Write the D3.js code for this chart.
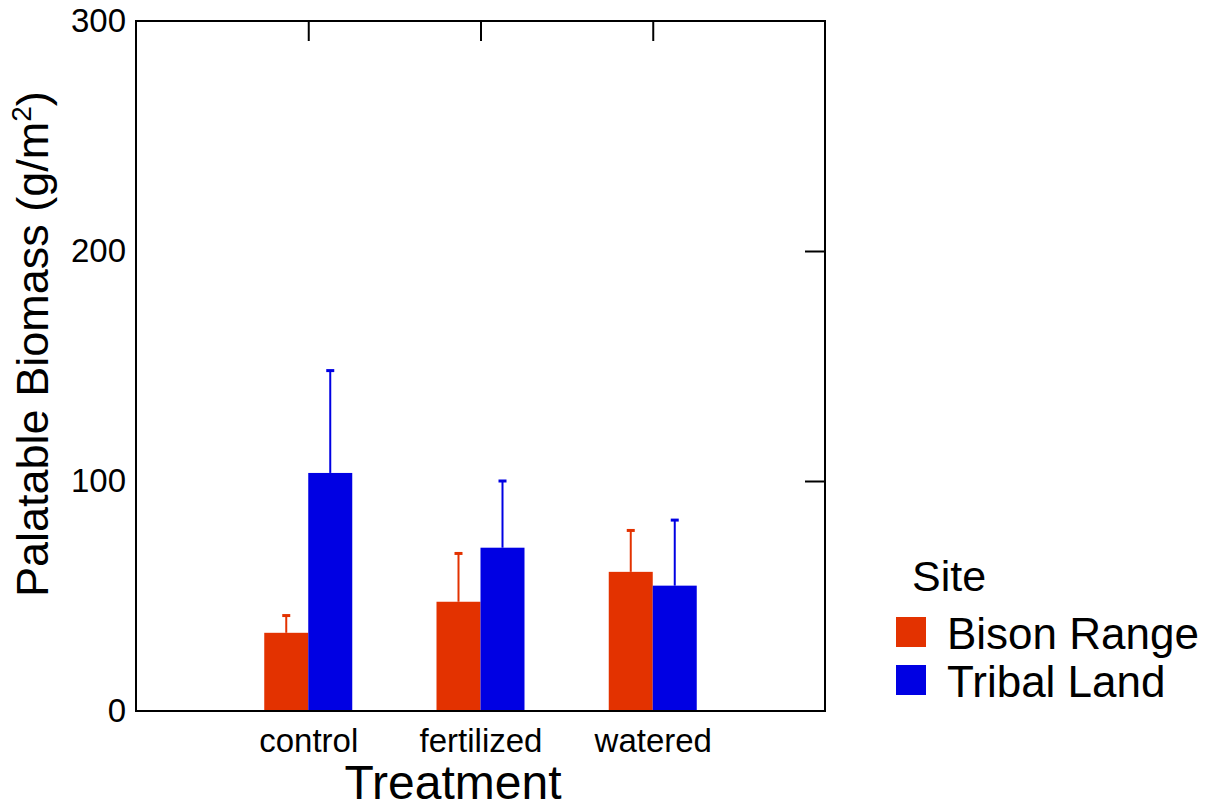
<!DOCTYPE html>
<html>
<head>
<meta charset="utf-8">
<script src="https://cdn.jsdelivr.net/npm/d3@7"></script>
<style>
  body { margin: 0; background: #fff; }
  text { font-family: "Liberation Sans", Arial, sans-serif; fill: #000; }
</style>
</head>
<body>
<svg id="chart" width="1217" height="810"></svg>
<script>
const categories = ['control', 'fertilized', 'watered']
const sites = ['Bison Range', 'Tribal Land']
const bisonMeans = [34, 47.5, 60.5]
const bisonUpper = [41.5, 68.5, 78.5]
const tribalMeans = [103.5, 71, 54.5]
const tribalUpper = [148, 100, 83]
const yTicks = [0, 100, 200, 300]

const colors = ['#e33200', '#0000e3']
const font = '"Liberation Sans", Arial, sans-serif'

const margin = { left: 136, top: 21, right: 825, bottom: 711 }
const svg = d3.select('#chart')

const x = d3.scalePoint()
    .domain(categories)
    .range([margin.left, margin.right])
    .padding(1)

const y = d3.scaleLinear()
    .domain([0, 300])
    .range([margin.bottom, margin.top])

const barW = 44

const series = [
    { site: sites[0], means: bisonMeans, upper: bisonUpper, offset: -1 },
    { site: sites[1], means: tribalMeans, upper: tribalUpper, offset: 0 }
]

// bars
series.forEach((s, si) => {
    const rows = categories.map((c, i) => ({ c, mean: s.means[i], up: s.upper[i] }))
    const cx = d => x(d.c) + s.offset * barW + barW / 2
    svg.append('g').selectAll('rect')
        .data(rows)
        .join('rect')
        .attr('x', d => x(d.c) + s.offset * barW)
        .attr('y', d => y(d.mean))
        .attr('width', barW)
        .attr('height', d => y(0) - y(d.mean))
        .attr('fill', colors[si])

    // upper error bars only
    const eb = svg.append('g').attr('stroke', colors[si]).attr('stroke-width', 2)
    eb.selectAll('line.v')
        .data(rows)
        .join('line')
        .attr('class', 'v')
        .attr('x1', cx)
        .attr('x2', cx)
        .attr('y1', d => y(d.mean))
        .attr('y2', d => y(d.up))
    eb.selectAll('line.cap')
        .data(rows)
        .join('line')
        .attr('class', 'cap')
        .attr('stroke-width', 3)
        .attr('x1', d => cx(d) - 4)
        .attr('x2', d => cx(d) + 4)
        .attr('y1', d => y(d.up))
        .attr('y2', d => y(d.up))
})

// frame
svg.append('rect')
    .attr('x', margin.left)
    .attr('y', margin.top)
    .attr('width', margin.right - margin.left)
    .attr('height', margin.bottom - margin.top)
    .attr('fill', 'none')
    .attr('stroke', '#000')
    .attr('stroke-width', 2)

// left axis labels
svg.append('g')
    .attr('transform', `translate(${margin.left},0)`)
    .call(d3.axisLeft(y).tickValues(yTicks).tickSize(0).tickPadding(10))
    .call(g => g.select('.domain').remove())
    .call(g => g.selectAll('text').attr('font-size', 33).attr('font-family', font))

// mirrored ticks on right (inward)
svg.append('g')
    .attr('transform', `translate(${margin.right},0)`)
    .call(d3.axisRight(y).tickValues([100, 200]).tickSize(-20).tickFormat(''))
    .call(g => g.select('.domain').remove())
    .call(g => g.selectAll('line').attr('stroke-width', 2))

// bottom labels
svg.append('g')
    .attr('transform', `translate(0,${margin.bottom})`)
    .call(d3.axisBottom(x).tickSize(0).tickPadding(18))
    .call(g => g.select('.domain').remove())
    .call(g => g.selectAll('text').attr('font-size', 33).attr('font-family', font))

// mirrored ticks on top (inward)
svg.append('g')
    .attr('transform', `translate(0,${margin.top})`)
    .call(d3.axisTop(x).tickSize(-20).tickFormat(''))
    .call(g => g.select('.domain').remove())
    .call(g => g.selectAll('line').attr('stroke-width', 2))

// axis titles
svg.append('text')
    .attr('x', 453)
    .attr('y', 799)
    .attr('text-anchor', 'middle')
    .attr('font-size', 48)
    .text('Treatment')

const yt = svg.append('text')
    .attr('transform', 'translate(48,597) rotate(-90)')
    .attr('text-anchor', 'start')
    .attr('font-size', 45)
yt.append('tspan').text('Palatable Biomass (g/m')
yt.append('tspan').attr('font-size', 28).attr('dy', -17).text('2')
yt.append('tspan').attr('dy', 17).text(')')

// legend
const legend = svg.append('g').attr('transform', 'translate(896,0)')
legend.append('text')
    .attr('x', 16)
    .attr('y', 591)
    .attr('font-size', 43)
    .text('Site')
legend.selectAll('rect')
    .data(sites)
    .join('rect')
    .attr('x', 0)
    .attr('y', (d, i) => 617 + i * 48)
    .attr('width', 30)
    .attr('height', 30)
    .attr('fill', (d, i) => colors[i])
legend.selectAll('text.item')
    .data(sites)
    .join('text')
    .attr('class', 'item')
    .attr('x', 51)
    .attr('y', (d, i) => 649 + i * 48)
    .attr('font-size', 44)
    .text(d => d)
</script>
</body>
</html>
